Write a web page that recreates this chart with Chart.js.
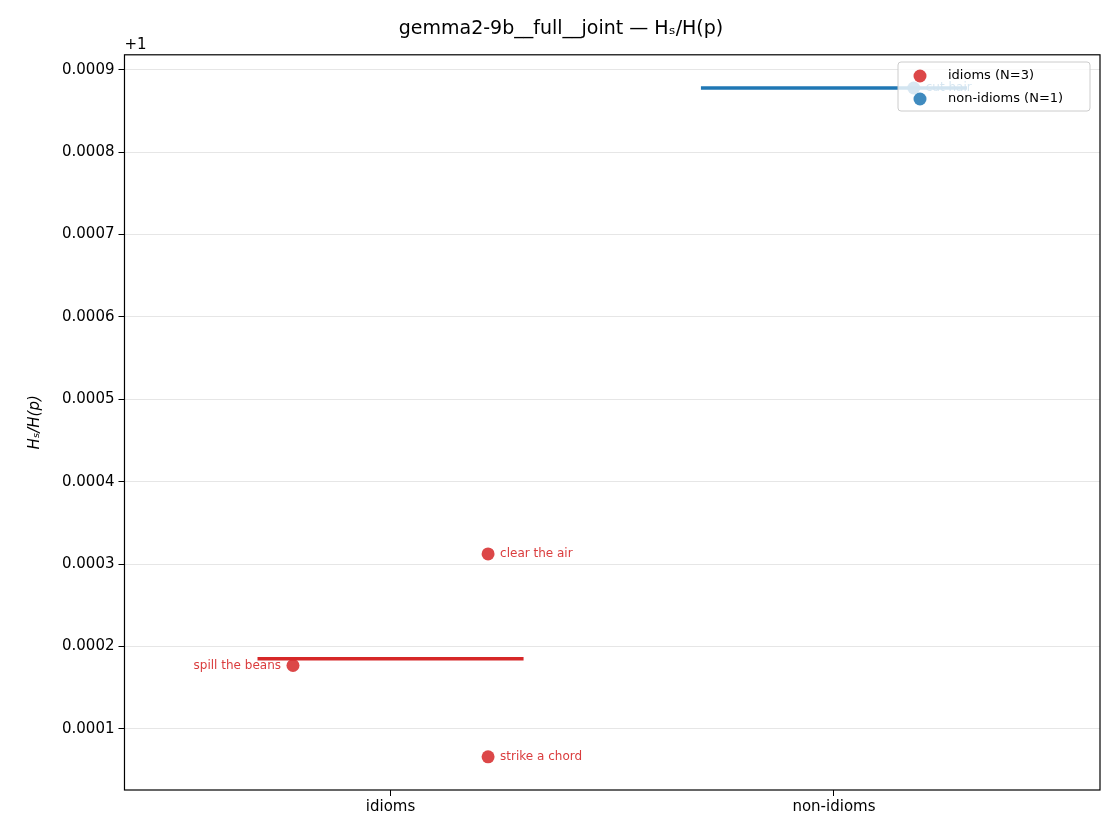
<!DOCTYPE html>
<html><head><meta charset="utf-8">
<script src="https://cdn.jsdelivr.net/npm/chart.js@4"></script>
<style>body{margin:0;background:#fff}#w{width:1120px;height:840px}</style>
</head><body><div id="w"><canvas id="c"></canvas></div>
<script>
// values are offsets from 1 (axis shows "+1")
const categories = ['idioms', 'non-idioms'];
const idiomNames = ['spill the beans', 'clear the air', 'strike a chord'];
const idiomX = [-0.22, 0.22, 0.22];
const idiomVals = [0.0001768, 0.0003122, 0.0000659];
const nonIdiomNames = ['cut hair'];
const nonIdiomX = [1.18];
const nonIdiomVals = [0.000878];
const idiomMean = 0.000185;
const nonIdiomMean = 0.000878;
const yTicks = [0.0001, 0.0002, 0.0003, 0.0004, 0.0005, 0.0006, 0.0007, 0.0008, 0.0009];

const red = '#d62728', blue = '#1f77b4';
const pts = (xs, ys) => xs.map((x, i) => ({x, y: ys[i]}));

const extras = {
  id: 'extras',
  afterDatasetsDraw(chart) {
    const {ctx, scales: {x, y}, chartArea: a} = chart;
    ctx.save();
    ctx.font = '12px "DejaVu Sans"';
    ctx.textBaseline = 'middle';
    idiomNames.forEach((n, i) => {
      const px = x.getPixelForValue(idiomX[i]), py = y.getPixelForValue(idiomVals[i]);
      ctx.fillStyle = 'rgba(214,39,40,0.9)';
      if (idiomX[i] < 0) { ctx.textAlign = 'right'; ctx.fillText(n, px - 12, py); }
      else { ctx.textAlign = 'left'; ctx.fillText(n, px + 12, py); }
    });
    ctx.fillStyle = 'rgba(31,119,180,0.9)';
    ctx.textAlign = 'left';
    nonIdiomNames.forEach((n, i) => ctx.fillText(n, x.getPixelForValue(nonIdiomX[i]) + 12, y.getPixelForValue(nonIdiomVals[i])));
    // +1 offset label
    ctx.fillStyle = '#000'; ctx.font = '15px "DejaVu Sans"'; ctx.textBaseline = 'bottom';
    ctx.fillText('+1', a.left, a.top - 2);
    // legend
    const lx = 898, ly = 62, lw = 192, lh = 49;
    ctx.fillStyle = 'rgba(255,255,255,0.8)'; ctx.strokeStyle = '#ccc'; ctx.lineWidth = 1;
    ctx.beginPath(); ctx.roundRect(lx, ly, lw, lh, 3); ctx.fill(); ctx.stroke();
    ctx.font = '13px "DejaVu Sans"'; ctx.textBaseline = 'middle';
    [['idioms (N=3)', 'rgba(214,39,40,0.85)', 76], ['non-idioms (N=1)', 'rgba(31,119,180,0.85)', 99]].forEach(([t, c, yy]) => {
      ctx.fillStyle = c; ctx.beginPath(); ctx.arc(920, yy, 6.5, 0, Math.PI * 2); ctx.fill();
      ctx.fillStyle = '#000'; ctx.fillText(t, 948, yy);
    });
    // frame
    ctx.strokeStyle = '#000'; ctx.lineWidth = 1.2;
    ctx.strokeRect(a.left, a.top, a.right - a.left, a.bottom - a.top);
    ctx.restore();
  }
};

new Chart(document.getElementById('c'), {
  type: 'scatter',
  data: {
    datasets: [
      {data: pts(idiomX, idiomVals), backgroundColor: 'rgba(214,39,40,0.85)', borderWidth: 0, pointRadius: 6.5, order: 1},
      {data: pts(nonIdiomX, nonIdiomVals), backgroundColor: 'rgba(31,119,180,0.85)', borderWidth: 0, pointRadius: 6.5, order: 1},
      {type: 'line', data: [{x: -0.3, y: idiomMean}, {x: 0.3, y: idiomMean}], borderColor: red, borderWidth: 3.5, pointRadius: 0, order: 0},
      {type: 'line', data: [{x: 0.7, y: nonIdiomMean}, {x: 1.3, y: nonIdiomMean}], borderColor: blue, borderWidth: 3.5, pointRadius: 0, order: 0}
    ]
  },
  options: {
    responsive: true, maintainAspectRatio: false, animation: false,
    layout: {padding: {left: 22, right: 20, top: 14, bottom: 22}},
    plugins: {
      legend: {display: false}, tooltip: {enabled: false},
      title: {display: true, text: 'gemma2-9b__full__joint — Hₛ/H(p)', color: '#000',
        font: {family: 'DejaVu Sans', size: 19, weight: 'normal'}, padding: {top: 4, bottom: 14}}
    },
    scales: {
      x: {type: 'linear', min: -0.6, max: 1.6,
        afterBuildTicks: s => { s.ticks = categories.map((_, i) => ({value: i})); },
        ticks: {callback: v => categories[v], color: '#000', font: {family: 'DejaVu Sans', size: 15}, padding: 2},
        grid: {display: true, drawOnChartArea: false, drawTicks: true, tickLength: 6, color: '#000'}, border: {display: false}},
      y: {min: 0.0000256, max: 0.0009183,
        afterBuildTicks: s => { s.ticks = yTicks.map(v => ({value: v})); },
        ticks: {callback: v => v.toFixed(4), color: '#000', font: {family: 'DejaVu Sans', size: 15}, padding: 4},
        grid: {color: ctx => '#e6e6e6', tickColor: '#000', tickLength: 6}, border: {display: false},
        title: {display: true, text: 'Hₛ/H(p)', color: '#000', padding: {bottom: 14}, font: {family: 'DejaVu Sans', size: 15, style: 'italic'}}}
    }
  },
  plugins: [extras]
});
</script></body></html>
